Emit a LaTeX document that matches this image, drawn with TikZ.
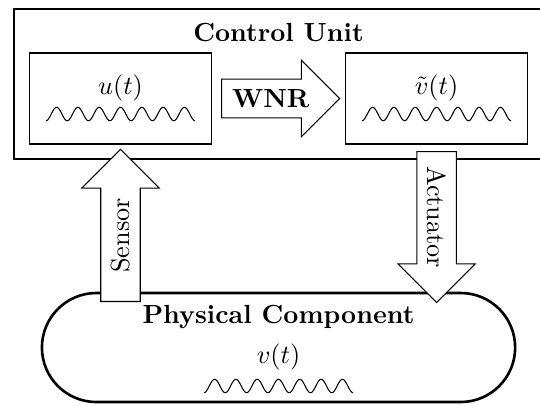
\documentclass[tikz,border=0pt]{standalone}
\usepackage{amsmath}
\usepackage{amssymb}
\usepackage{tikz}
\usetikzlibrary{shapes.arrows, shapes.misc}

\begin{document}
\begin{tikzpicture}[
	block/.style={draw, thin, minimum width=2.44cm, minimum height=1.22cm},
	bigarrow/.style={draw, thin, fill=white, single arrow, single arrow head extend=0.253cm, inner ysep=3.7pt, minimum height=#1, anchor=tail},
	signal/.pic={\draw[thin] plot[domain=-1:1, samples=211, smooth] (\x, {-0.09*cos(1260*(\x+1))});}
]
	\useasboundingbox (0,0) rectangle (7.241,5.431);
	\draw[line width=1pt] (0.188,3.299) rectangle (7.282,5.310);
	\node[font=\bfseries] (cu) at (3.735,4.989) {Control Unit};
	\node[block] (ubox) at (1.616,4.11) {};
	\node[block] (vbox) at (5.854,4.11) {};
	\node (u) at ([yshift=0.141cm]ubox.center) {$u(t)$};
	\node (vt) at ([yshift=0.141cm]vbox.center) {$\tilde{v}(t)$};
	\pic at ([yshift=-0.208cm]ubox.center) {signal};
	\pic at ([yshift=-0.208cm]vbox.center) {signal};
	\node[bigarrow=1.582cm, font=\bfseries] (wnr) at (2.964,4.11) {WNR};
	\node[rounded rectangle, draw, line width=1pt, minimum width=6.58cm, minimum height=1.462cm] (phys) at (3.735,0.771) {};
	\node[font=\bfseries] (physlabel) at (3.735,1.180) {Physical Component};
	\node (v) at (3.735,0.644) {$v(t)$};
	\pic at (3.735,0.255) {signal};
	\node[bigarrow=2.039cm, rotate=90] (sensor) at (1.616,1.381) {Sensor};
	\node[bigarrow=2.025cm, rotate=-90] (actuator) at (5.854,3.406) {Actuator};
\end{tikzpicture}
\end{document}
